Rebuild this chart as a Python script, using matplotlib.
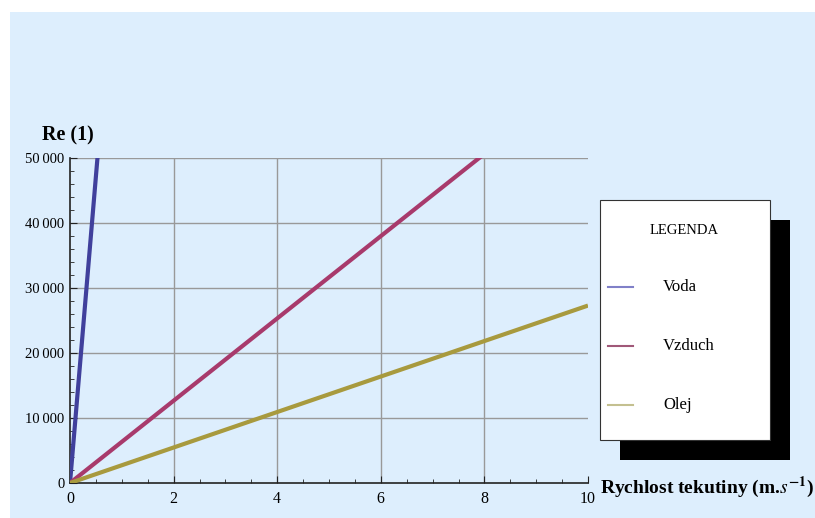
import matplotlib.pyplot as plt
from matplotlib.patches import Rectangle
from matplotlib.lines import Line2D
from matplotlib.ticker import MultipleLocator, FuncFormatter

# data: Re proti rychlosti (primky z nuly)
rychlost = [0, 10]
re_voda = [0, 943000]
re_vzduch = [0, 63300]
re_olej = [0, 27300]
nazvy = ['Voda', 'Vzduch', 'Olej']
barvy = ['#40409C', '#A83A6C', '#A89A3E']
barvy_leg = ['#8080C8', '#A05878', '#C4C090']

plt.rcParams['font.family'] = ['Liberation Serif', 'DejaVu Serif']
plt.rcParams['mathtext.fontset'] = 'stix'

fig = plt.figure(figsize=(8.15, 5.18), dpi=100)
fig.patch.set_facecolor('white')
# modre pozadi
fig.patches.append(Rectangle((10 / 815, 0), 1, 1 - 12 / 518, transform=fig.transFigure,
                             facecolor='#DDEEFD', edgecolor='none', zorder=-10))

ax = fig.add_axes([70 / 815, 1 - 483 / 518, 518 / 815, 325 / 518])
ax.set_facecolor('none')

for y, c in zip([re_voda, re_vzduch, re_olej], barvy):
    ax.plot(rychlost, y, color=c, lw=3, solid_capstyle='butt', zorder=3)

ax.set_xlim(0, 10)
ax.set_ylim(0, 50000)
ax.xaxis.set_major_locator(MultipleLocator(2))
ax.xaxis.set_minor_locator(MultipleLocator(0.5))
ax.yaxis.set_major_locator(MultipleLocator(10000))
ax.yaxis.set_minor_locator(MultipleLocator(2000))
ax.yaxis.set_major_formatter(FuncFormatter(
    lambda v, p: '0' if v == 0 else '{:,.0f}'.format(v).replace(',', '\u2009')))
ax.tick_params(which='both', direction='in', labelsize=10.5, color='#222222')
ax.tick_params(axis='x', labelsize=11.5)
ax.tick_params(which='major', length=5)
ax.tick_params(which='minor', length=3)
ax.tick_params(axis='x', pad=6)
ax.tick_params(axis='y', pad=4)

for s in ['top', 'right']:
    ax.spines[s].set_visible(False)
for s in ['left', 'bottom']:
    ax.spines[s].set_color('#222222')
    ax.spines[s].set_linewidth(1.2)

# mrizka
for gx in [2, 4, 6, 8]:
    ax.axvline(gx, color='#999999', lw=1, zorder=1)
for gy in [10000, 20000, 30000, 40000, 50000]:
    ax.axhline(gy, color='#999999', lw=1, zorder=1)

fig.text(42 / 815, 1 - 135 / 518, 'Re (1)', fontsize=14.5, fontweight='bold',
         va='center', ha='left')
fig.text(600 / 815, 1 - 487 / 518, r'Rychlost tekutiny (m.$s^{\mathbf{-1}}$)',
         fontsize=14, fontweight='bold', va='center', ha='left')

# legenda s cernym stinem
fig.patches.append(Rectangle((620 / 815, 1 - 460 / 518), 170 / 815, 240 / 518,
                             transform=fig.transFigure, facecolor='black',
                             edgecolor='none', zorder=5))
fig.patches.append(Rectangle((600 / 815, 1 - 440 / 518), 170 / 815, 240 / 518,
                             transform=fig.transFigure, facecolor='white',
                             edgecolor='#333333', lw=0.8, zorder=6))
fig.text(684 / 815, 1 - 231 / 518, 'LEGENDA', fontsize=10.5, ha='center', va='center', zorder=7)
for i, (n, c) in enumerate(zip(nazvy, barvy_leg)):
    yy = 1 - (287 + 59 * i) / 518
    fig.lines.append(Line2D([608 / 815, 633 / 815], [yy, yy], transform=fig.transFigure,
                            color=c, lw=1.5, zorder=7))
    fig.text(663 / 815, yy, n, fontsize=12, ha='left', va='center', zorder=7)

fig.savefig('out.png', dpi=100)
